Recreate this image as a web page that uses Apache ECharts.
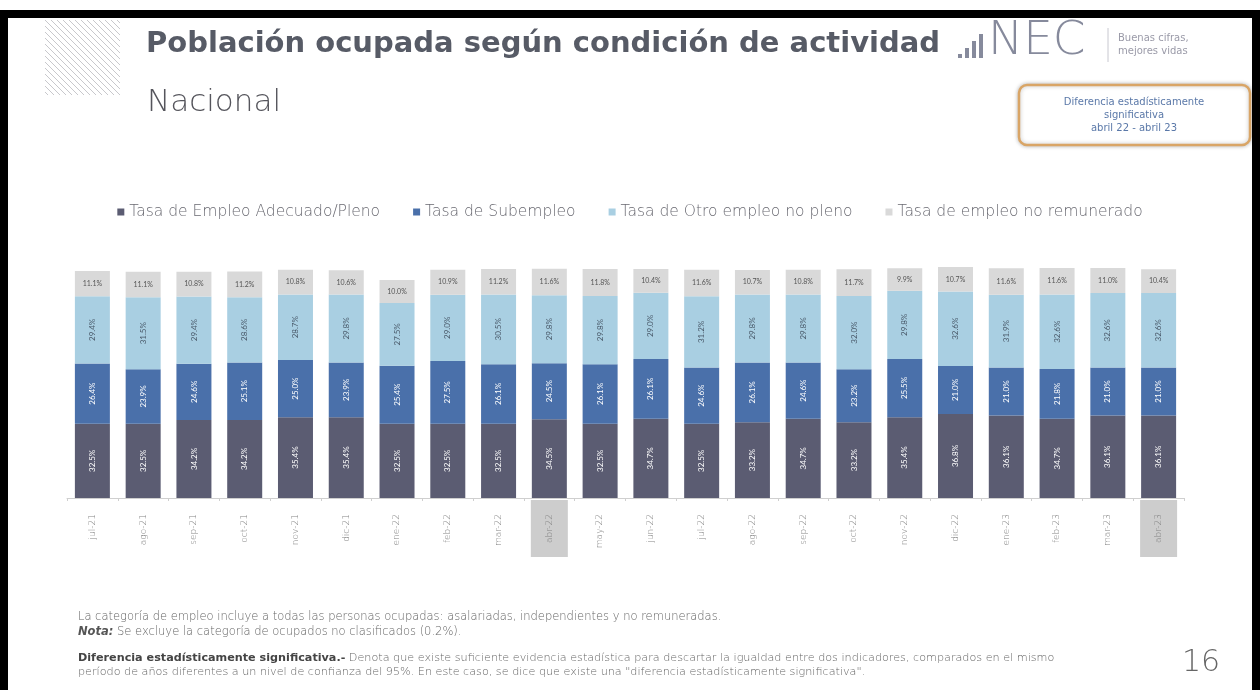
<!DOCTYPE html>
<html>
<head>
<meta charset="utf-8">
<script src="https://cdn.jsdelivr.net/npm/echarts@6/dist/echarts.min.js"></script>
<style>html,body{margin:0;padding:0;background:#fff;}#c{width:1260px;height:690px;}</style>
</head>
<body>
<div id="c"></div>
<script>
const categories = ['jul-21','ago-21','sep-21','oct-21','nov-21','dic-21','ene-22','feb-22','mar-22','abr-22','may-22','jun-22','jul-22','ago-22','sep-22','oct-22','nov-22','dic-22','ene-23','feb-23','mar-23','abr-23'];
const adecuado   = [32.5,32.5,34.2,34.2,35.4,35.4,32.5,32.5,32.5,34.5,32.5,34.7,32.5,33.2,34.7,33.2,35.4,36.8,36.1,34.7,36.1,36.1];
const subempleo  = [26.4,23.9,24.6,25.1,25.0,23.9,25.4,27.5,26.1,24.5,26.1,26.1,24.6,26.1,24.6,23.2,25.5,21.0,21.0,21.8,21.0,21.0];
const otroNoPleno= [29.4,31.5,29.4,28.6,28.7,29.8,27.5,29.0,30.5,29.8,29.8,29.0,31.2,29.8,29.8,32.0,29.8,32.6,31.9,32.6,32.6,32.6];
const noRemunerado=[11.1,11.1,10.8,11.2,10.8,10.6,10.0,10.9,11.2,11.6,11.8,10.4,11.6,10.7,10.8,11.7,9.9,10.7,11.6,11.6,11.0,10.4];
const highlighted = ['abr-22','abr-23'];
const seriesNames = ['Tasa de Empleo Adecuado/Pleno','Tasa de Subempleo','Tasa de Otro empleo no pleno','Tasa de empleo no remunerado'];

const colors = ['#5b5c72','#4a70aa','#a9cfe2','#d9d9d9'];
const fmt = p => p.value.toFixed(1) + '%';
const FF = 'DejaVu Sans';

function hatch(){
  const els=[]; const s=75, x0=45, y0=20;
  for(let c=-72;c<=72;c+=6){
    let a,b;
    if(c>=0){a=[c,0];b=[s,s-c];} else {a=[0,-c];b=[s+c,s];}
    els.push({type:'line',shape:{x1:x0+a[0],y1:y0+a[1],x2:x0+b[0],y2:y0+b[1]},style:{stroke:'#c8c8cc',lineWidth:1}});
  }
  return els;
}

const chart = echarts.init(document.getElementById('c'));
const option = {
  backgroundColor:'#fff',
  animation:false,
  title:[
    {text:'Población ocupada según condición de actividad',left:141,top:25,textStyle:{fontFamily:FF,fontWeight:'bold',fontSize:29,color:'#575b66'}},
    {text:'Nacional',left:142,top:82,textStyle:{fontFamily:FF,fontWeight:200,fontSize:31,color:'#55555c'}}
  ],
  legend:{
    top:199,left:'center',itemWidth:7,itemHeight:7,icon:'rect',itemGap:33,
    textStyle:{fontFamily:FF,fontWeight:200,fontSize:15.5,color:'#6a6a72'},
    data:seriesNames
  },
  grid:{left:67,right:76,top:265,bottom:192},
  xAxis:{
    type:'category',data:categories,
    axisLine:{lineStyle:{color:'#cfcfcf'}},
    axisTick:{show:true,length:3,lineStyle:{color:'#cfcfcf'}},
    axisLabel:{
      rotate:90,margin:2,
      formatter:v => highlighted.includes(v) ? '{h|'+v+'}' : '{n|'+v+'}',
      rich:{
        n:{fontSize:9,color:'#858585',fontFamily:FF,fontWeight:200,padding:[14,14,14,14]},
        h:{fontSize:9,color:'#858585',fontFamily:FF,fontWeight:200,padding:[14,14,14,14],backgroundColor:'#cdcdcd'}
      }
    }
  },
  yAxis:{type:'value',min:0,max:102,show:false,splitLine:{show:false}},
  series:[
    {name:seriesNames[0],type:'bar',stack:'t',barWidth:35,data:adecuado,itemStyle:{color:colors[0]},
     label:{show:true,position:'inside',rotate:90,formatter:fmt,fontSize:8,color:'#fff',fontFamily:'Lato'}},
    {name:seriesNames[1],type:'bar',stack:'t',barWidth:35,data:subempleo,itemStyle:{color:colors[1]},
     label:{show:true,position:'inside',rotate:90,formatter:fmt,fontSize:8,color:'#fff',fontFamily:'Lato'}},
    {name:seriesNames[2],type:'bar',stack:'t',barWidth:35,data:otroNoPleno,itemStyle:{color:colors[2]},
     label:{show:true,position:'inside',rotate:90,formatter:fmt,fontSize:8,color:'#4a5a6a',fontFamily:'Lato'}},
    {name:seriesNames[3],type:'bar',stack:'t',barWidth:35,data:noRemunerado,itemStyle:{color:colors[3]},
     label:{show:true,position:'inside',formatter:fmt,fontSize:7,color:'#555',fontFamily:'Lato'}}
  ],
  graphic:[
    {type:'rect',shape:{x:0,y:10,width:1260,height:8},style:{fill:'#000'}},
    {type:'rect',shape:{x:0,y:10,width:8,height:680},style:{fill:'#000'}},
    {type:'rect',shape:{x:1252,y:10,width:8,height:680},style:{fill:'#000'}},
    {type:'group',children:hatch()},
    // INEC logo
    {type:'rect',shape:{x:958,y:54,width:4,height:4},style:{fill:'#868a9c'}},
    {type:'rect',shape:{x:965,y:48,width:4,height:10},style:{fill:'#868a9c'}},
    {type:'rect',shape:{x:972,y:41,width:4,height:17},style:{fill:'#868a9c'}},
    {type:'rect',shape:{x:979,y:34,width:4,height:24},style:{fill:'#868a9c'}},
    {type:'text',left:988,top:18,style:{text:'NEC',fontFamily:FF,fontWeight:200,fontSize:47,fill:'#868a9c'}},
    {type:'line',shape:{x1:1108,y1:28,x2:1108,y2:62},style:{stroke:'#c8c8d0',lineWidth:1}},
    {type:'text',left:1118,top:32,style:{text:'Buenas cifras,\nmejores vidas',fontFamily:FF,fontSize:10,lineHeight:13,fill:'#9a9aa8'}},
    // box
    {type:'rect',shape:{x:1019,y:85,width:231,height:60,r:8},style:{fill:'#fff',stroke:'#d9a566',lineWidth:2.5,shadowBlur:4,shadowColor:'rgba(0,0,0,0.25)'}},
    {type:'text',x:1134,y:115,style:{text:'Diferencia estadísticamente\nsignificativa\nabril 22 - abril 23',align:'center',verticalAlign:'middle',fontFamily:FF,fontSize:10,lineHeight:13,fill:'#5a78a8'}},
    // footer
    {type:'text',left:78,top:611,style:{text:'La categoría de empleo incluye a todas las personas ocupadas: asalariadas, independientes y no remuneradas.',fontFamily:FF,fontWeight:200,fontSize:11.5,fill:'#666'}},
    {type:'text',left:78,top:626,style:{text:'{b|Nota:} Se excluye la categoría de ocupados no clasificados (0.2%).',fontFamily:FF,fontWeight:200,fontSize:11.5,fill:'#666',rich:{b:{fontFamily:FF,fontWeight:'bold',fontStyle:'italic',fontSize:11.5,fill:'#555'}}}},
    {type:'text',left:78,top:653,style:{text:'{b|Diferencia estadísticamente significativa.-} Denota que existe suficiente evidencia estadística para descartar la igualdad entre dos indicadores, comparados en el mismo',fontFamily:FF,fontWeight:200,fontSize:11.2,fill:'#666',rich:{b:{fontFamily:FF,fontWeight:'bold',fontSize:11.2,fill:'#444'}}}},
    {type:'text',left:78,top:667,style:{text:'período de años diferentes a un nivel de confianza del 95%. En este caso, se dice que existe una "diferencia estadísticamente significativa".',fontFamily:FF,fontWeight:200,fontSize:11.2,fill:'#666'}},
    {type:'text',left:1182,top:648,style:{text:'16',fontFamily:FF,fontWeight:200,fontSize:30,fill:'#666'}}
  ]
};
chart.setOption(option);
</script>
</body>
</html>
